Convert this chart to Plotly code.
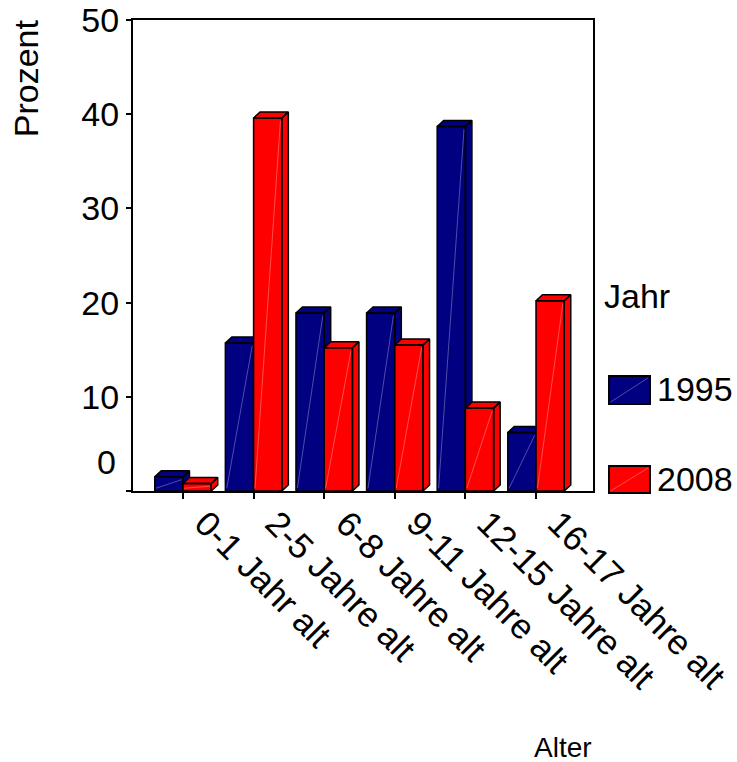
import plotly.graph_objects as go

categories = ["0-1 Jahr alt", "2-5 Jahre alt", "6-8 Jahre alt", "9-11 Jahre alt",
              "12-15 Jahre alt", "16-17 Jahre alt"]
years = ["1995", "2008"]
values_1995 = [1.5, 15.7, 18.9, 18.9, 38.7, 6.2]
values_2008 = [0.8, 39.6, 15.2, 15.5, 8.8, 20.2]
y_ticks = [0, 10, 20, 30, 40, 50]

series = [(years[0], values_1995, "#000080"), (years[1], values_2008, "#FF0000")]

FONT = "Liberation Sans, Arial, sans-serif"
W = 0.40      # bar width (category units)
DX = 0.092    # 3D depth in x (category units)
DY = 0.64     # 3D depth in y (data units)

fig = go.Figure()

diag_x, diag_y = [], []
for i in range(len(categories)):
    for s, (name, vals, color) in enumerate(series):
        v = vals[i]
        x0 = i - W if s == 0 else i
        x1 = x0 + W
        xs, ys = [], []
        # front face
        xs += [x0, x1, x1, x0, x0, None]
        ys += [0, 0, v, v, 0, None]
        # top face
        xs += [x0, x0 + DX, x1 + DX, x1, x0, None]
        ys += [v, v + DY, v + DY, v, v, None]
        # side face
        xs += [x1, x1 + DX, x1 + DX, x1, x1]
        ys += [0, DY, v + DY, v, 0]
        fig.add_trace(go.Scatter(
            x=xs, y=ys, mode="lines", fill="toself", fillcolor=color,
            line=dict(color="black", width=1.5), showlegend=False,
            hoverinfo="skip"))
        diag_x += [x0 + 0.02, x1 - 0.02, None]
        diag_y += [0.3, v - 0.3, None]

# faint highlight diagonals on the bar fronts
fig.add_trace(go.Scatter(x=diag_x, y=diag_y, mode="lines",
                         line=dict(color="rgba(255,255,255,0.3)", width=1),
                         showlegend=False, hoverinfo="skip"))

fig.update_layout(
    width=737, height=762,
    margin=dict(l=133, r=144, t=20, b=271, autoexpand=False),
    paper_bgcolor="white", plot_bgcolor="white",
    font=dict(family=FONT, size=34, color="black"),
    showlegend=False,
)

fig.update_xaxes(
    range=[-0.708, 5.807], tickmode="array", tickvals=list(range(len(categories))),
    ticktext=categories, tickangle=45, ticks="outside", ticklen=6, tickwidth=1.5,
    tickcolor="black", showline=True, linecolor="black", linewidth=2, mirror=True,
    showgrid=False, zeroline=False, tickfont=dict(size=35, family=FONT),
    automargin=False, ticklabelshift=22, ticklabelstandoff=-10,
)
fig.update_yaxes(
    range=[0, 50], tickmode="array", tickvals=y_ticks,
    ticktext=["" if t == 0 else str(t) for t in y_ticks],
    ticks="outside", ticklen=5, tickwidth=1.5, tickcolor="black",
    showline=True, linecolor="black", linewidth=2, mirror=True,
    showgrid=False, zeroline=False, tickfont=dict(size=34, family=FONT),
    automargin=False,
)

# "0" label sits slightly above the baseline
fig.add_annotation(x=0, xref="paper", y=0, yref="y", text="0", showarrow=False,
                   xanchor="right", yanchor="middle", xshift=-15, yshift=29,
                   font=dict(size=34, family=FONT))

# axis titles
fig.add_annotation(x=-0.232, y=0.877, xref="paper", yref="paper", text="Prozent",
                   textangle=-90, showarrow=False, xanchor="center", yanchor="middle",
                   font=dict(size=34, family=FONT))
fig.add_annotation(x=0.935, y=-0.5456, xref="paper", yref="paper", text="Alter",
                   showarrow=False, xanchor="center", yanchor="middle",
                   font=dict(size=28, family=FONT))

# legend
fig.add_annotation(x=1.0196, y=0.414, xref="paper", yref="paper", text="Jahr",
                   showarrow=False, xanchor="left", yanchor="middle",
                   font=dict(size=34, family=FONT))
legend_rows = [(0.1847, 0.2442, 0.2166), (-0.0042, 0.0531, 0.0255)]
for (name, vals, color), (y0, y1, yt) in zip(series, legend_rows):
    fig.add_shape(type="rect", xref="paper", yref="paper", x0=1.0348, x1=1.1239,
                  y0=y0, y1=y1, fillcolor=color, line=dict(color="black", width=2))
    fig.add_shape(type="line", xref="paper", yref="paper", x0=1.038, x1=1.120,
                  y0=y0 + 0.004, y1=y1 - 0.004,
                  line=dict(color="rgba(255,255,255,0.3)", width=1))
    fig.add_annotation(x=1.1348, y=yt, xref="paper", yref="paper", text=name,
                       showarrow=False, xanchor="left", yanchor="middle",
                       font=dict(size=34, family=FONT))

fig.write_html("out.html")
